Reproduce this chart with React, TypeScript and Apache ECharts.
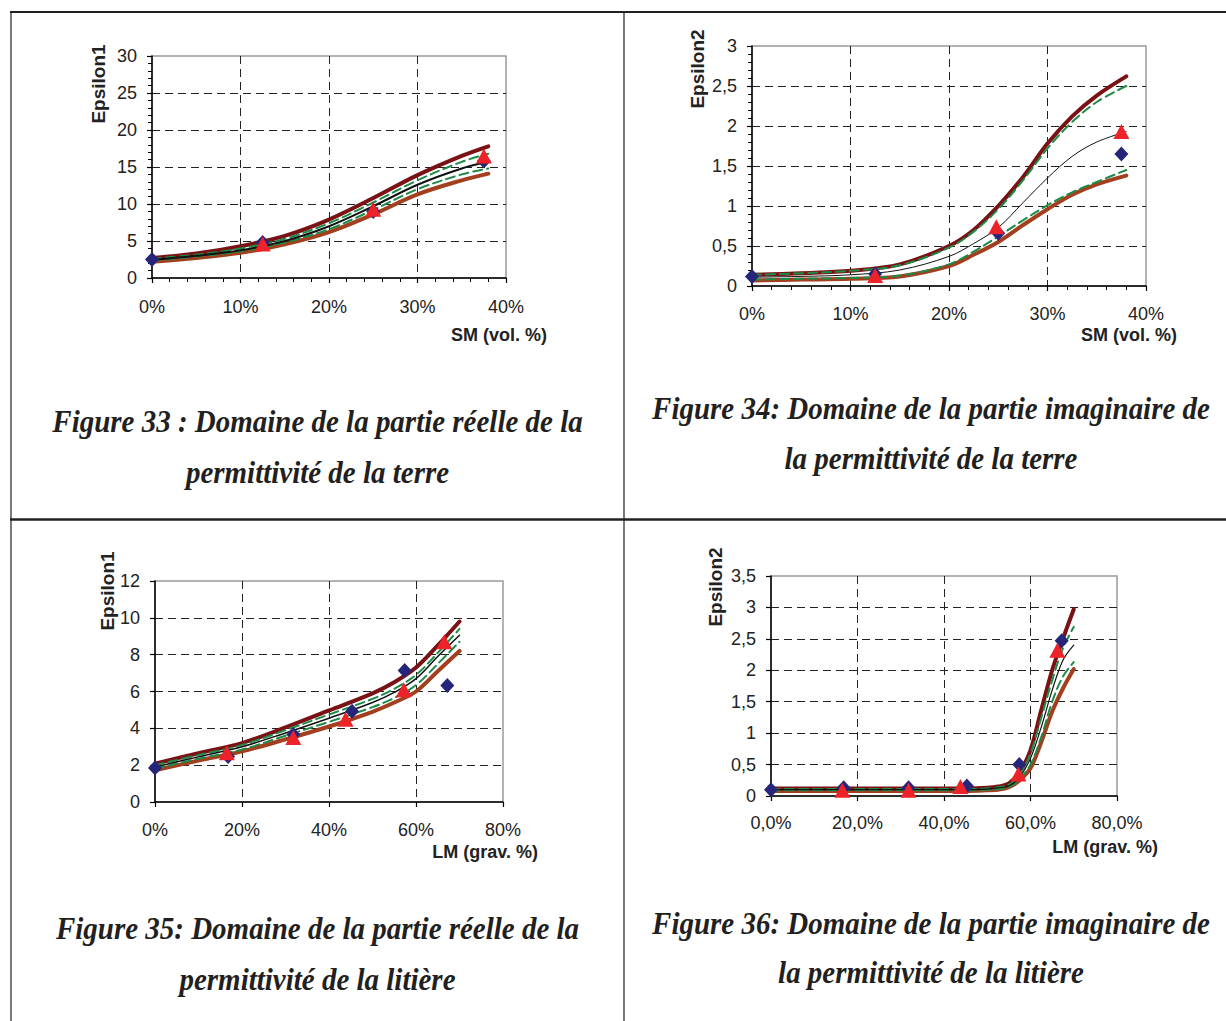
import React, { useEffect, useRef } from "react";
import * as echarts from "echarts";

// ---------- DATA ----------
// Panel 1 : Epsilon1 vs SM (vol. %)
const p1X = [0, 5, 10, 15, 20, 25, 30, 35, 38];
const p1Top = [2.7, 3.3, 4.3, 5.7, 7.9, 10.8, 13.9, 16.5, 17.8];
const p1GreenHi = [2.6, 3.15, 4.0, 5.3, 7.4, 10.2, 13.2, 15.7, 16.8];
const p1Mid = [2.45, 3.0, 3.75, 5.0, 7.0, 9.7, 12.6, 14.8, 15.7];
const p1GreenLo = [2.35, 2.9, 3.6, 4.8, 6.6, 9.2, 12.0, 14.0, 14.8];
const p1Bot = [2.2, 2.7, 3.4, 4.55, 6.2, 8.6, 11.3, 13.2, 14.1];
const p1DiamondX = [0, 12.5, 25, 37.5];
const p1DiamondY = [2.5, 4.8, 9.0, 15.8];
const p1TriX = [12.5, 25, 37.5];
const p1TriY = [4.6, 9.3, 16.5];

// Panel 2 : Epsilon2 vs SM (vol. %)
const p2X = [0, 5, 10, 15, 20, 22.5, 25, 27.5, 30, 32.5, 35, 38];
const p2Top = [0.14, 0.16, 0.19, 0.27, 0.5, 0.7, 1.0, 1.36, 1.78, 2.12, 2.38, 2.62];
const p2GreenHi = [0.14, 0.16, 0.19, 0.26, 0.48, 0.68, 0.96, 1.32, 1.72, 2.05, 2.3, 2.5];
const p2Mid = [0.11, 0.12, 0.14, 0.2, 0.37, 0.53, 0.73, 1.04, 1.35, 1.62, 1.8, 1.93];
const p2GreenLo = [0.08, 0.09, 0.1, 0.13, 0.27, 0.43, 0.62, 0.82, 1.01, 1.17, 1.3, 1.45];
const p2Bot = [0.07, 0.08, 0.09, 0.12, 0.25, 0.39, 0.55, 0.76, 0.96, 1.14, 1.27, 1.38];
const p2DiamondX = [0, 12.5, 25, 37.5];
const p2DiamondY = [0.12, 0.15, 0.66, 1.65];
const p2TriX = [12.5, 24.8, 37.5];
const p2TriY = [0.13, 0.74, 1.93];

// Panel 3 : Epsilon1 vs LM (grav. %)
const p3X = [0, 10, 20, 30, 40, 50, 55, 60, 65, 70];
const p3Top = [2.08, 2.65, 3.2, 4.05, 4.97, 5.9, 6.5, 7.3, 8.5, 9.8];
const p3GreenHi = [2.0, 2.55, 3.1, 3.9, 4.75, 5.6, 6.15, 6.9, 8.1, 9.4];
const p3Mid = [1.9, 2.45, 3.0, 3.75, 4.55, 5.4, 5.95, 6.7, 7.9, 9.05];
const p3GreenLo = [1.8, 2.35, 2.85, 3.6, 4.35, 5.15, 5.65, 6.35, 7.5, 8.7];
const p3Bot = [1.72, 2.25, 2.75, 3.4, 4.1, 4.9, 5.4, 6.0, 7.1, 8.2];
const p3DiamondX = [0, 16.8, 31.8, 45.3, 57.4, 67.2];
const p3DiamondY = [1.85, 2.47, 3.66, 4.93, 7.14, 6.33];
const p3TriX = [16.5, 31.8, 43.8, 57.2, 66.5];
const p3TriY = [2.67, 3.5, 4.5, 6.1, 8.7];

// Panel 4 : Epsilon2 vs LM (grav. %)
const p4X = [0, 10, 20, 30, 40, 45, 50, 52.5, 55, 57.5, 60, 62.5, 65, 67.5, 70];
const p4Top = [0.12, 0.12, 0.12, 0.12, 0.12, 0.12, 0.13, 0.15, 0.2, 0.38, 0.73, 1.37, 2.0, 2.5, 2.97];
const p4GreenHi = [0.11, 0.11, 0.11, 0.11, 0.11, 0.11, 0.12, 0.14, 0.18, 0.34, 0.68, 1.25, 1.84, 2.35, 2.69];
const p4Mid = [0.1, 0.1, 0.1, 0.1, 0.1, 0.1, 0.11, 0.13, 0.16, 0.3, 0.6, 1.1, 1.68, 2.16, 2.4];
const p4GreenLo = [0.09, 0.09, 0.09, 0.09, 0.09, 0.09, 0.1, 0.11, 0.14, 0.27, 0.5, 0.94, 1.5, 1.9, 2.13];
const p4Bot = [0.08, 0.08, 0.08, 0.08, 0.08, 0.08, 0.09, 0.1, 0.14, 0.25, 0.44, 0.86, 1.34, 1.71, 2.02];
const p4DiamondX = [0, 16.8, 31.8, 45.3, 57.4, 67.2];
const p4DiamondY = [0.1, 0.13, 0.13, 0.16, 0.5, 2.47];
const p4TriX = [16.5, 31.8, 43.8, 57.2, 66.2];
const p4TriY = [0.09, 0.09, 0.15, 0.35, 2.32];

// Axis ranges / ticks
const p1Y = { min: 0, max: 30, interval: 5 };
const p2Y = { min: 0, max: 3, interval: 0.5 };
const p3Y = { min: 0, max: 12, interval: 2 };
const p4Y = { min: 0, max: 3.5, interval: 0.5 };
const smX = { min: 0, max: 40, interval: 10 };
const lmX = { min: 0, max: 80, interval: 20 };

const captions = [
  ["Figure 33 : Domaine de la partie réelle de la", "permittivité de la terre"],
  ["Figure 34: Domaine de la partie imaginaire de", "la permittivité de la terre"],
  ["Figure 35: Domaine de la partie réelle de la", "permittivité de la litière"],
  ["Figure 36: Domaine de la partie imaginaire de", "la permittivité de la litière"],
];
const xTitles = ["SM (vol. %)", "SM (vol. %)", "LM (grav. %)", "LM (grav. %)"];
const yTitles = ["Epsilon1", "Epsilon2", "Epsilon1", "Epsilon2"];

// ---------- STYLE ----------
const SANS = '"Liberation Sans", Arial, sans-serif';
const SERIF = '"Liberation Serif", "Times New Roman", serif';
const C_TOP = "#7a1114";
const C_BOT = "#a33f1f";
const C_GREEN = "#1d8a47";
const C_MID = "#111111";
const C_DIAMOND = "#25267a";
const C_TRI = "#ee2229";

const pair = (xs: number[], ys: number[]) => xs.map((x, i) => [x, ys[i]]);

export default function App() {
  const ref = useRef<HTMLDivElement>(null);

  useEffect(() => {
    if (!ref.current) return;
    const chart = echarts.init(ref.current, undefined, { renderer: "svg" });

    const grids = [
      { left: 152, top: 56, width: 354, height: 222 },
      { left: 752, top: 46, width: 394, height: 240 },
      { left: 155, top: 581, width: 348, height: 221 },
      { left: 771, top: 576, width: 346, height: 220 },
    ];

    const commaFmt = (v: number) => String(v).replace(".", ",");

    const xCfg = [
      { r: smX, fmt: (v: number) => v + "%", minor: true, margin: 20 },
      { r: smX, fmt: (v: number) => v + "%", minor: true, margin: 19 },
      { r: lmX, fmt: (v: number) => v + "%", minor: false, margin: 19 },
      { r: lmX, fmt: (v: number) => v.toFixed(1).replace(".", ",") + "%", minor: false, margin: 18 },
    ];
    const yCfg = [
      { r: p1Y, fmt: (v: number) => String(v), minor: true },
      { r: p2Y, fmt: commaFmt, minor: true },
      { r: p3Y, fmt: (v: number) => String(v), minor: false },
      { r: p4Y, fmt: commaFmt, minor: false },
    ];

    const splitLine = {
      show: true,
      showMinLine: false,
      showMaxLine: false,
      lineStyle: { color: "#222", width: 1, type: [8, 5] },
    };

    const xAxis = xCfg.map((c, i) => ({
      type: "value",
      gridIndex: i,
      min: c.r.min,
      max: c.r.max,
      interval: c.r.interval,
      axisLine: { show: true, onZero: false, lineStyle: { color: "#000", width: 1.5 } },
      axisTick: { show: true, inside: false, length: 5, lineStyle: { color: "#000", width: 1.2 } },
      minorTick: { show: c.minor, splitNumber: 5, length: 4, lineStyle: { color: "#000", width: 1 } },
      splitLine,
      axisLabel: { fontSize: 18, color: "#222", fontFamily: SANS, margin: c.margin, formatter: c.fmt },
    }));
    const yAxis = yCfg.map((c, i) => ({
      type: "value",
      gridIndex: i,
      min: c.r.min,
      max: c.r.max,
      interval: c.r.interval,
      axisLine: { show: true, onZero: false, lineStyle: { color: "#000", width: 1.5 } },
      axisTick: { show: true, inside: false, length: 5, lineStyle: { color: "#000", width: 1.2 } },
      minorTick: { show: c.minor, splitNumber: 5, length: 4, lineStyle: { color: "#000", width: 1 } },
      splitLine,
      axisLabel: { fontSize: 18, color: "#222", fontFamily: SANS, margin: 15, formatter: c.fmt },
    }));

    const panels = [
      { x: p1X, top: p1Top, gh: p1GreenHi, mid: p1Mid, gl: p1GreenLo, bot: p1Bot, dx: p1DiamondX, dy: p1DiamondY, tx: p1TriX, ty: p1TriY, midW: 2 },
      { x: p2X, top: p2Top, gh: p2GreenHi, mid: p2Mid, gl: p2GreenLo, bot: p2Bot, dx: p2DiamondX, dy: p2DiamondY, tx: p2TriX, ty: p2TriY, midW: 1 },
      { x: p3X, top: p3Top, gh: p3GreenHi, mid: p3Mid, gl: p3GreenLo, bot: p3Bot, dx: p3DiamondX, dy: p3DiamondY, tx: p3TriX, ty: p3TriY, midW: 1.5 },
      { x: p4X, top: p4Top, gh: p4GreenHi, mid: p4Mid, gl: p4GreenLo, bot: p4Bot, dx: p4DiamondX, dy: p4DiamondY, tx: p4TriX, ty: p4TriY, midW: 1.2 },
    ];

    const series: any[] = [];
    panels.forEach((p, i) => {
      const line = (ys: number[], color: string, width: number, dashed: boolean, z: number) => ({
        type: "line",
        xAxisIndex: i,
        yAxisIndex: i,
        data: pair(p.x, ys),
        showSymbol: false,
        smooth: 0.35,
        z,
        lineStyle: { color, width, type: dashed ? [9, 5] : "solid", cap: "round", join: "round" },
      });
      series.push(line(p.bot, C_BOT, 4, false, 2));
      series.push(line(p.top, C_TOP, 4, false, 2));
      series.push(line(p.gl, C_GREEN, 2, true, 3));
      series.push(line(p.gh, C_GREEN, 2, true, 3));
      series.push(line(p.mid, C_MID, p.midW, false, 3));
      series.push({
        type: "scatter",
        xAxisIndex: i,
        yAxisIndex: i,
        data: pair(p.dx, p.dy),
        symbol: "diamond",
        symbolSize: [14, 15],
        itemStyle: { color: C_DIAMOND, opacity: 1 },
        z: 4,
      });
      series.push({
        type: "scatter",
        xAxisIndex: i,
        yAxisIndex: i,
        data: pair(p.tx, p.ty),
        symbol: "triangle",
        symbolSize: [16, 15],
        itemStyle: { color: C_TRI, opacity: 1 },
        z: 5,
      });
    });

    const graphic: any[] = [];
    // table borders
    const border = (x1: number, y1: number, x2: number, y2: number, w: number) => ({
      type: "line",
      shape: { x1, y1, x2, y2 },
      style: { stroke: "#231f20", lineWidth: w },
      silent: true,
    });
    graphic.push(border(10, 12, 1226, 12, 2));
    graphic.push(border(10, 519.5, 1226, 519.5, 2.5));
    graphic.push(border(11, 11, 11, 1021, 1.2));
    graphic.push(border(624, 11, 624, 1021, 1.2));

    // axis titles
    const xTitlePos = [
      [547, 335],
      [1177, 335],
      [538, 852],
      [1158, 847],
    ];
    const yTitlePos = [
      [98, 84],
      [697, 69],
      [107, 591],
      [715, 587],
    ];
    for (let i = 0; i < 4; i++) {
      graphic.push({
        type: "text",
        x: xTitlePos[i][0],
        y: xTitlePos[i][1],
        style: {
          text: xTitles[i],
          font: `bold 18px ${SANS}`,
          fill: "#222",
          align: "right",
          verticalAlign: "middle",
        },
      });
      graphic.push({
        type: "text",
        x: yTitlePos[i][0],
        y: yTitlePos[i][1],
        rotation: Math.PI / 2,
        style: {
          text: yTitles[i],
          font: `bold 19px ${SANS}`,
          fill: "#222",
          align: "center",
          verticalAlign: "middle",
        },
      });
    }

    // captions
    const capPos = [
      [317.5, 421, 472],
      [931, 408, 458],
      [317.5, 928, 979],
      [931, 923, 972],
    ];
    captions.forEach((c, i) => {
      c.forEach((t, j) => {
        graphic.push({
          type: "text",
          x: capPos[i][0],
          y: capPos[i][1 + j],
          scaleY: 1.12,
          style: {
            text: t,
            font: `italic bold 29px ${SERIF}`,
            fill: "#231f20",
            align: "center",
            verticalAlign: "middle",
          },
        });
      });
    });

    chart.setOption({
      animation: false,
      backgroundColor: "#ffffff",
      grid: grids.map((g) => ({
        ...g,
        show: true,
        borderColor: "#9a9a9a",
        borderWidth: 1.5,
        backgroundColor: "transparent",
        containLabel: false,
      })),
      xAxis,
      yAxis,
      series,
      graphic,
    });

    return () => chart.dispose();
  }, []);

  return (
    <div
      ref={ref}
      style={{ position: "absolute", left: 0, top: 0, width: 1226, height: 1021, background: "#fff" }}
    />
  );
}
